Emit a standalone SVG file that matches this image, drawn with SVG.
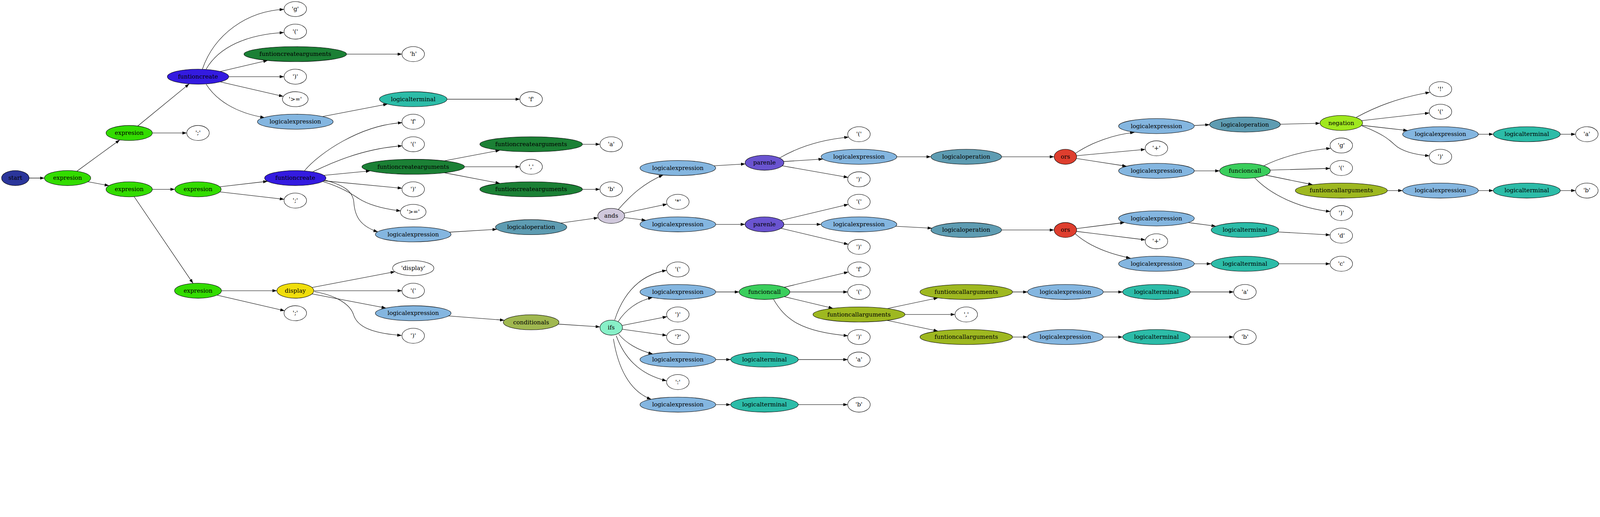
<svg xmlns="http://www.w3.org/2000/svg" width="5115" height="1323" viewBox="0 0 5115 1323" preserveAspectRatio="xMinYMin meet">
<style>
svg:root{width:100vw;height:100vh}
.n ellipse{stroke:#000;stroke-width:1.33}
.n text{font-family:"DejaVu Serif","Liberation Serif",serif;font-size:18.67px;text-anchor:middle;fill:#000}
.lit{fill:#fff}
.start{fill:#2b369b}
.expr{fill:#33dc00}
.fcreate{fill:#341be0}
.fca{fill:#1b8035}
.lexp{fill:#84b6e0}
.lterm{fill:#2cbca8}
.lop{fill:#5e9cb2}
.ands{fill:#d0c8dc}
.par{fill:#6a54d0}
.ors{fill:#de3e2e}
.neg{fill:#a0e81e}
.fcall{fill:#3ace5c}
.fcarg{fill:#9eb820}
.disp{fill:#f0de0c}
.cond{fill:#a0b850}
.ifs{fill:#88f0c8}
#edges path{fill:none;stroke:#000;stroke-width:1.33;marker-end:url(#arr)}
</style>
<defs>
<marker id="arr" markerUnits="userSpaceOnUse" markerWidth="14" markerHeight="10" viewBox="0 0 13.3 9.34" refX="13.3" refY="4.67" orient="auto">
<path d="M0,0 L13.3,4.67 L0,9.34 z" fill="#000"/>
</marker>
</defs>
<rect width="5115" height="1323" fill="#fff"/>
<g id="edges">
<path d="M93,569 L142,569"/>
<path d="M246,547 L383,447"/>
<path d="M280.5,580.8 L348.5,593.2"/>
<path d="M440.3,402.7 L604.9,268"/>
<path d="M487,425 L597,425"/>
<path d="M647,221 C685,110 790,35 908,30"/>
<path d="M659,221 C700,150 790,110 908,104"/>
<path d="M704,228.5 L856,193"/>
<path d="M731,245 L908,245"/>
<path d="M704,261.5 L905.9,308.2"/>
<path d="M659,269 C690,318 750,360 846,376"/>
<path d="M1108,173 L1285,173"/>
<path d="M1031.2,372.4 L1239.1,332.6"/>
<path d="M1429,317 L1662,317"/>
<path d="M487,605 L559,605"/>
<path d="M428.9,628.4 L617.1,905.5"/>
<path d="M702.7,596.9 L855.4,579.3"/>
<path d="M702.7,613.1 L908.5,636.9"/>
<path d="M973,546 C1020,490 1150,400 1286,392"/>
<path d="M1000,549 C1040,530 1150,475 1286,466"/>
<path d="M1035.3,560.3 L1183.7,546.1"/>
<path d="M1035.3,577.7 L1285.4,601.6"/>
<path d="M1032,580 C1075,593 1110,610 1140,630 C1175,655 1230,668 1281,674"/>
<path d="M1040,576 C1100,592 1128,612 1131,645 C1134,690 1150,722 1208,741"/>
<path d="M1420.8,513.9 L1598.2,480.1"/>
<path d="M1485,533 L1662,533"/>
<path d="M1420.8,552.1 L1598.2,585.9"/>
<path d="M1862,461 L1918,461"/>
<path d="M1862,605 L1918,605"/>
<path d="M1436.7,741.9 L1588.5,732.7"/>
<path d="M1792.8,712.7 L1912.3,695.9"/>
<path d="M1976,670 C2020,620 2060,585 2120,559"/>
<path d="M1994.2,681.5 L2132.7,652.3"/>
<path d="M1995.9,695.3 L2065.1,704.1"/>
<path d="M2282.6,529.9 L2382.8,523.8"/>
<path d="M2288,717 L2382,717"/>
<path d="M2492,505 C2560,465 2640,445 2713,438"/>
<path d="M2505.2,516.2 L2630.7,508.3"/>
<path d="M2500.5,529.9 L2711.2,566.9"/>
<path d="M2496.8,704.4 L2712.1,653.1"/>
<path d="M2506,717 L2625,717"/>
<path d="M2496.8,729.6 L2712.1,780.9"/>
<path d="M2867,501 L2976,501"/>
<path d="M2863,723.1 L2979.3,729.2"/>
<path d="M3202,501 L3370,501"/>
<path d="M3202,735 L3370,735"/>
<path d="M3438,490 C3490,455 3560,430 3627,423"/>
<path d="M3441.7,497.7 L3661.3,477.3"/>
<path d="M3441.1,506.4 L3601.6,531.2"/>
<path d="M3441.4,730.5 L3595.2,711"/>
<path d="M3441.4,739.4 L3661.6,766.6"/>
<path d="M3437,747 C3480,785 3540,810 3614,825"/>
<path d="M3818,401 L3867,398.5"/>
<path d="M4093,397 L4220,394"/>
<path d="M4336,375 C4400,340 4480,310 4571,295"/>
<path d="M4352.7,385.6 L4569.5,361"/>
<path d="M4352.7,400.4 L4500,417.1"/>
<path d="M4354,402 C4420,428 4440,445 4458,462 C4478,482 4520,494 4570,498"/>
<path d="M4726,429 L4774,429"/>
<path d="M4988,429 L5037,429"/>
<path d="M3818,546 L3899,546"/>
<path d="M4040,530 C4100,500 4180,480 4254,474"/>
<path d="M4060.6,543.6 L4252,538.1"/>
<path d="M4046.7,559.6 L4196.3,590.2"/>
<path d="M4011,568 C4060,620 4150,665 4253,676"/>
<path d="M4435,609 L4484,609"/>
<path d="M4726,609 L4774,609"/>
<path d="M4988,609 L5037,609"/>
<path d="M3798,711.2 L3886.9,722.8"/>
<path d="M4084.4,741.1 L4252.1,750.9"/>
<path d="M3818,843 L3872,843"/>
<path d="M4088,843 L4252,843"/>
<path d="M708,929 L885,929"/>
<path d="M693.8,943.1 L910,993.1"/>
<path d="M997.4,918.8 L1262.6,868.2"/>
<path d="M1003,929 L1285,929"/>
<path d="M997.4,939.2 L1233.8,984.4"/>
<path d="M1005,932 C1080,945 1120,975 1130,1005 C1142,1045 1190,1065 1284,1072"/>
<path d="M1433.8,1009.7 L1612.4,1023.4"/>
<path d="M1784.4,1035.7 L1918.2,1044.6"/>
<path d="M1965,1023 C1985,960 2030,880 2131,864"/>
<path d="M1976,1028 C2000,990 2040,960 2086,951"/>
<path d="M1988.5,1040.2 L2132.5,1011.8"/>
<path d="M1989.2,1052 L2131.8,1072"/>
<path d="M1978,1068 C2000,1095 2040,1120 2087,1131"/>
<path d="M1970,1073 C1995,1140 2040,1195 2131,1217"/>
<path d="M1961,1083 C1975,1170 2010,1250 2082,1276"/>
<path d="M2288,933 L2363,933"/>
<path d="M2507.1,918 L2712.1,869.1"/>
<path d="M2525,933 L2710,933"/>
<path d="M2507.1,948 L2663,985.2"/>
<path d="M2473,957 C2510,1020 2560,1060 2711,1073"/>
<path d="M2836.3,986.1 L2998.5,952"/>
<path d="M2893,1005 L3053,1005"/>
<path d="M2836.3,1023.9 L2998.5,1058"/>
<path d="M3237,933 L3285,933"/>
<path d="M3527,933 L3589,933"/>
<path d="M3805,933 L3944,933"/>
<path d="M3237,1077 L3285,1077"/>
<path d="M3527,1077 L3589,1077"/>
<path d="M3805,1077 L3944,1077"/>
<path d="M2288,1149 L2336,1149"/>
<path d="M2552,1149 L2710,1149"/>
<path d="M2288,1293 L2336,1293"/>
<path d="M2552,1293 L2710,1293"/>
</g>
<g id="n_start" class="n"><ellipse class="start" cx="49" cy="569" rx="44" ry="24"/><text x="49" y="575">start</text></g>
<g id="n_e1" class="n"><ellipse class="expr" cx="216" cy="569" rx="74" ry="24"/><text x="216" y="575">expresion</text></g>
<g id="n_e2" class="n"><ellipse class="expr" cx="413" cy="425" rx="74" ry="24"/><text x="413" y="431">expresion</text></g>
<g id="n_e3" class="n"><ellipse class="expr" cx="413" cy="605" rx="74" ry="24"/><text x="413" y="611">expresion</text></g>
<g id="n_fc1" class="n"><ellipse class="fcreate" cx="633" cy="245" rx="98" ry="24"/><text x="633" y="251">funtioncreate</text></g>
<g id="n_semi1" class="n"><ellipse class="lit" cx="633" cy="425" rx="36" ry="24"/><text x="633" y="431">';'</text></g>
<g id="n_e4" class="n"><ellipse class="expr" cx="633" cy="605" rx="74" ry="24"/><text x="633" y="611">expresion</text></g>
<g id="n_e5" class="n"><ellipse class="expr" cx="633" cy="929" rx="75" ry="24"/><text x="633" y="935">expresion</text></g>
<g id="n_g1" class="n"><ellipse class="lit" cx="944" cy="29" rx="36" ry="24"/><text x="944" y="35">'g'</text></g>
<g id="n_lp1" class="n"><ellipse class="lit" cx="944" cy="101" rx="36" ry="24"/><text x="944" y="107">'('</text></g>
<g id="n_fca1" class="n"><ellipse class="fca" cx="944" cy="173" rx="164" ry="24"/><text x="944" y="179">funtioncreatearguments</text></g>
<g id="n_rp1" class="n"><ellipse class="lit" cx="944" cy="245" rx="36" ry="24"/><text x="944" y="251">')'</text></g>
<g id="n_ge1" class="n"><ellipse class="lit" cx="944" cy="317" rx="41" ry="24"/><text x="944" y="323">'&gt;='</text></g>
<g id="n_le1" class="n"><ellipse class="lexp" cx="944" cy="389" rx="121" ry="24"/><text x="944" y="395">logicalexpression</text></g>
<g id="n_fc2" class="n"><ellipse class="fcreate" cx="944" cy="569" rx="98" ry="24"/><text x="944" y="575">funtioncreate</text></g>
<g id="n_semi2" class="n"><ellipse class="lit" cx="944" cy="641" rx="36" ry="24"/><text x="944" y="647">';'</text></g>
<g id="n_disp" class="n"><ellipse class="disp" cx="944" cy="929" rx="59" ry="24"/><text x="944" y="935">display</text></g>
<g id="n_semi3" class="n"><ellipse class="lit" cx="944" cy="1001" rx="36" ry="24"/><text x="944" y="1007">';'</text></g>
<g id="n_h1" class="n"><ellipse class="lit" cx="1321" cy="173" rx="36" ry="24"/><text x="1321" y="179">'h'</text></g>
<g id="n_lt1" class="n"><ellipse class="lterm" cx="1321" cy="317" rx="108" ry="24"/><text x="1321" y="323">logicalterminal</text></g>
<g id="n_f1" class="n"><ellipse class="lit" cx="1321" cy="389" rx="36" ry="24"/><text x="1321" y="395">'f'</text></g>
<g id="n_lp2" class="n"><ellipse class="lit" cx="1321" cy="461" rx="36" ry="24"/><text x="1321" y="467">'('</text></g>
<g id="n_fca2" class="n"><ellipse class="fca" cx="1321" cy="533" rx="164" ry="24"/><text x="1321" y="539">funtioncreatearguments</text></g>
<g id="n_rp2" class="n"><ellipse class="lit" cx="1321" cy="605" rx="36" ry="24"/><text x="1321" y="611">')'</text></g>
<g id="n_ge2" class="n"><ellipse class="lit" cx="1321" cy="677" rx="41" ry="24"/><text x="1321" y="683">'&gt;='</text></g>
<g id="n_le2" class="n"><ellipse class="lexp" cx="1321" cy="749" rx="121" ry="24"/><text x="1321" y="755">logicalexpression</text></g>
<g id="n_dstr" class="n"><ellipse class="lit" cx="1321" cy="857" rx="66" ry="24"/><text x="1321" y="863">'display'</text></g>
<g id="n_lp3" class="n"><ellipse class="lit" cx="1321" cy="929" rx="36" ry="24"/><text x="1321" y="935">'('</text></g>
<g id="n_le3" class="n"><ellipse class="lexp" cx="1321" cy="1001" rx="121" ry="24"/><text x="1321" y="1007">logicalexpression</text></g>
<g id="n_rp3" class="n"><ellipse class="lit" cx="1321" cy="1073" rx="36" ry="24"/><text x="1321" y="1079">')'</text></g>
<g id="n_f2" class="n"><ellipse class="lit" cx="1698" cy="317" rx="36" ry="24"/><text x="1698" y="323">'f'</text></g>
<g id="n_fca3" class="n"><ellipse class="fca" cx="1698" cy="461" rx="164" ry="24"/><text x="1698" y="467">funtioncreatearguments</text></g>
<g id="n_comma1" class="n"><ellipse class="lit" cx="1698" cy="533" rx="36" ry="24"/><text x="1698" y="539">','</text></g>
<g id="n_fca4" class="n"><ellipse class="fca" cx="1698" cy="605" rx="164" ry="24"/><text x="1698" y="611">funtioncreatearguments</text></g>
<g id="n_lo1" class="n"><ellipse class="lop" cx="1698" cy="726" rx="114" ry="24"/><text x="1698" y="732">logicaloperation</text></g>
<g id="n_cond" class="n"><ellipse class="cond" cx="1698" cy="1030" rx="89" ry="24"/><text x="1698" y="1036">conditionals</text></g>
<g id="n_a1" class="n"><ellipse class="lit" cx="1954" cy="461" rx="36" ry="24"/><text x="1954" y="467">'a'</text></g>
<g id="n_b1" class="n"><ellipse class="lit" cx="1954" cy="605" rx="36" ry="24"/><text x="1954" y="611">'b'</text></g>
<g id="n_ands" class="n"><ellipse class="ands" cx="1954" cy="690" rx="43" ry="24"/><text x="1954" y="696">ands</text></g>
<g id="n_ifs" class="n"><ellipse class="ifs" cx="1954" cy="1047" rx="36" ry="24"/><text x="1954" y="1053">ifs</text></g>
<g id="n_le4" class="n"><ellipse class="lexp" cx="2167" cy="537" rx="121" ry="24"/><text x="2167" y="543">logicalexpression</text></g>
<g id="n_star" class="n"><ellipse class="lit" cx="2167" cy="645" rx="36" ry="24"/><text x="2167" y="651">'*'</text></g>
<g id="n_le5" class="n"><ellipse class="lexp" cx="2167" cy="717" rx="121" ry="24"/><text x="2167" y="723">logicalexpression</text></g>
<g id="n_lp4" class="n"><ellipse class="lit" cx="2167" cy="861" rx="36" ry="24"/><text x="2167" y="867">'('</text></g>
<g id="n_le6" class="n"><ellipse class="lexp" cx="2167" cy="933" rx="121" ry="24"/><text x="2167" y="939">logicalexpression</text></g>
<g id="n_rp4" class="n"><ellipse class="lit" cx="2167" cy="1005" rx="36" ry="24"/><text x="2167" y="1011">')'</text></g>
<g id="n_q" class="n"><ellipse class="lit" cx="2167" cy="1077" rx="36" ry="24"/><text x="2167" y="1083">'?'</text></g>
<g id="n_le7" class="n"><ellipse class="lexp" cx="2167" cy="1149" rx="121" ry="24"/><text x="2167" y="1155">logicalexpression</text></g>
<g id="n_colon" class="n"><ellipse class="lit" cx="2167" cy="1221" rx="36" ry="24"/><text x="2167" y="1227">':'</text></g>
<g id="n_le8" class="n"><ellipse class="lexp" cx="2167" cy="1293" rx="121" ry="24"/><text x="2167" y="1299">logicalexpression</text></g>
<g id="n_par1" class="n"><ellipse class="par" cx="2444" cy="520" rx="62" ry="24"/><text x="2444" y="526">parenle</text></g>
<g id="n_par2" class="n"><ellipse class="par" cx="2444" cy="717" rx="62" ry="24"/><text x="2444" y="723">parenle</text></g>
<g id="n_fcall1" class="n"><ellipse class="fcall" cx="2444" cy="933" rx="81" ry="24"/><text x="2444" y="939">funcioncall</text></g>
<g id="n_lt2" class="n"><ellipse class="lterm" cx="2444" cy="1149" rx="108" ry="24"/><text x="2444" y="1155">logicalterminal</text></g>
<g id="n_lt3" class="n"><ellipse class="lterm" cx="2444" cy="1293" rx="108" ry="24"/><text x="2444" y="1299">logicalterminal</text></g>
<g id="n_lp5" class="n"><ellipse class="lit" cx="2746" cy="429" rx="36" ry="24"/><text x="2746" y="435">'('</text></g>
<g id="n_le9" class="n"><ellipse class="lexp" cx="2746" cy="501" rx="121" ry="24"/><text x="2746" y="507">logicalexpression</text></g>
<g id="n_rp5" class="n"><ellipse class="lit" cx="2746" cy="573" rx="36" ry="24"/><text x="2746" y="579">')'</text></g>
<g id="n_lp6" class="n"><ellipse class="lit" cx="2746" cy="645" rx="36" ry="24"/><text x="2746" y="651">'('</text></g>
<g id="n_le10" class="n"><ellipse class="lexp" cx="2746" cy="717" rx="121" ry="24"/><text x="2746" y="723">logicalexpression</text></g>
<g id="n_rp6" class="n"><ellipse class="lit" cx="2746" cy="789" rx="36" ry="24"/><text x="2746" y="795">')'</text></g>
<g id="n_f3" class="n"><ellipse class="lit" cx="2746" cy="861" rx="36" ry="24"/><text x="2746" y="867">'f'</text></g>
<g id="n_lp7" class="n"><ellipse class="lit" cx="2746" cy="933" rx="36" ry="24"/><text x="2746" y="939">'('</text></g>
<g id="n_fcarg1" class="n"><ellipse class="fcarg" cx="2746" cy="1005" rx="147" ry="24"/><text x="2746" y="1011">funtioncallarguments</text></g>
<g id="n_rp7" class="n"><ellipse class="lit" cx="2746" cy="1077" rx="36" ry="24"/><text x="2746" y="1083">')'</text></g>
<g id="n_a2" class="n"><ellipse class="lit" cx="2746" cy="1149" rx="36" ry="24"/><text x="2746" y="1155">'a'</text></g>
<g id="n_b2" class="n"><ellipse class="lit" cx="2746" cy="1293" rx="36" ry="24"/><text x="2746" y="1299">'b'</text></g>
<g id="n_lo2" class="n"><ellipse class="lop" cx="3089" cy="501" rx="113" ry="24"/><text x="3089" y="507">logicaloperation</text></g>
<g id="n_lo3" class="n"><ellipse class="lop" cx="3089" cy="735" rx="113" ry="24"/><text x="3089" y="741">logicaloperation</text></g>
<g id="n_fcarg2" class="n"><ellipse class="fcarg" cx="3089" cy="933" rx="148" ry="24"/><text x="3089" y="939">funtioncallarguments</text></g>
<g id="n_comma2" class="n"><ellipse class="lit" cx="3089" cy="1005" rx="36" ry="24"/><text x="3089" y="1011">','</text></g>
<g id="n_fcarg3" class="n"><ellipse class="fcarg" cx="3089" cy="1077" rx="148" ry="24"/><text x="3089" y="1083">funtioncallarguments</text></g>
<g id="n_ors1" class="n"><ellipse class="ors" cx="3406" cy="501" rx="36" ry="24"/><text x="3406" y="507">ors</text></g>
<g id="n_ors2" class="n"><ellipse class="ors" cx="3406" cy="735" rx="36" ry="24"/><text x="3406" y="741">ors</text></g>
<g id="n_le11" class="n"><ellipse class="lexp" cx="3406" cy="933" rx="121" ry="24"/><text x="3406" y="939">logicalexpression</text></g>
<g id="n_le12" class="n"><ellipse class="lexp" cx="3406" cy="1077" rx="121" ry="24"/><text x="3406" y="1083">logicalexpression</text></g>
<g id="n_le13" class="n"><ellipse class="lexp" cx="3697" cy="403" rx="121" ry="24"/><text x="3697" y="409">logicalexpression</text></g>
<g id="n_plus1" class="n"><ellipse class="lit" cx="3697" cy="474" rx="36" ry="24"/><text x="3697" y="480">'+'</text></g>
<g id="n_le14" class="n"><ellipse class="lexp" cx="3697" cy="546" rx="121" ry="24"/><text x="3697" y="552">logicalexpression</text></g>
<g id="n_le15" class="n"><ellipse class="lexp" cx="3697" cy="698" rx="121" ry="24"/><text x="3697" y="704">logicalexpression</text></g>
<g id="n_plus2" class="n"><ellipse class="lit" cx="3697" cy="771" rx="36" ry="24"/><text x="3697" y="777">'+'</text></g>
<g id="n_le16" class="n"><ellipse class="lexp" cx="3697" cy="843" rx="121" ry="24"/><text x="3697" y="849">logicalexpression</text></g>
<g id="n_lt4" class="n"><ellipse class="lterm" cx="3697" cy="933" rx="108" ry="24"/><text x="3697" y="939">logicalterminal</text></g>
<g id="n_lt5" class="n"><ellipse class="lterm" cx="3697" cy="1077" rx="108" ry="24"/><text x="3697" y="1083">logicalterminal</text></g>
<g id="n_lo4" class="n"><ellipse class="lop" cx="3980" cy="398" rx="113" ry="24"/><text x="3980" y="404">logicaloperation</text></g>
<g id="n_fcall2" class="n"><ellipse class="fcall" cx="3980" cy="546" rx="81" ry="24"/><text x="3980" y="552">funcioncall</text></g>
<g id="n_lt6" class="n"><ellipse class="lterm" cx="3980" cy="735" rx="108" ry="24"/><text x="3980" y="741">logicalterminal</text></g>
<g id="n_lt7" class="n"><ellipse class="lterm" cx="3980" cy="843" rx="108" ry="24"/><text x="3980" y="849">logicalterminal</text></g>
<g id="n_a3" class="n"><ellipse class="lit" cx="3980" cy="933" rx="36" ry="24"/><text x="3980" y="939">'a'</text></g>
<g id="n_b3" class="n"><ellipse class="lit" cx="3980" cy="1077" rx="36" ry="24"/><text x="3980" y="1083">'b'</text></g>
<g id="n_neg" class="n"><ellipse class="neg" cx="4288" cy="393" rx="68" ry="24"/><text x="4288" y="399">negation</text></g>
<g id="n_g2" class="n"><ellipse class="lit" cx="4288" cy="465" rx="36" ry="24"/><text x="4288" y="471">'g'</text></g>
<g id="n_lp8" class="n"><ellipse class="lit" cx="4288" cy="537" rx="36" ry="24"/><text x="4288" y="543">'('</text></g>
<g id="n_fcarg4" class="n"><ellipse class="fcarg" cx="4288" cy="609" rx="147" ry="24"/><text x="4288" y="615">funtioncallarguments</text></g>
<g id="n_rp8" class="n"><ellipse class="lit" cx="4288" cy="681" rx="36" ry="24"/><text x="4288" y="687">')'</text></g>
<g id="n_d" class="n"><ellipse class="lit" cx="4288" cy="753" rx="36" ry="24"/><text x="4288" y="759">'d'</text></g>
<g id="n_c" class="n"><ellipse class="lit" cx="4288" cy="843" rx="36" ry="24"/><text x="4288" y="849">'c'</text></g>
<g id="n_excl" class="n"><ellipse class="lit" cx="4605" cy="285" rx="36" ry="24"/><text x="4605" y="291">'!'</text></g>
<g id="n_lp9" class="n"><ellipse class="lit" cx="4605" cy="357" rx="36" ry="24"/><text x="4605" y="363">'('</text></g>
<g id="n_le17" class="n"><ellipse class="lexp" cx="4605" cy="429" rx="121" ry="24"/><text x="4605" y="435">logicalexpression</text></g>
<g id="n_rp9" class="n"><ellipse class="lit" cx="4605" cy="501" rx="36" ry="24"/><text x="4605" y="507">')'</text></g>
<g id="n_le18" class="n"><ellipse class="lexp" cx="4605" cy="609" rx="121" ry="24"/><text x="4605" y="615">logicalexpression</text></g>
<g id="n_lt8" class="n"><ellipse class="lterm" cx="4881" cy="429" rx="107" ry="24"/><text x="4881" y="435">logicalterminal</text></g>
<g id="n_lt9" class="n"><ellipse class="lterm" cx="4881" cy="609" rx="107" ry="24"/><text x="4881" y="615">logicalterminal</text></g>
<g id="n_a4" class="n"><ellipse class="lit" cx="5073" cy="429" rx="36" ry="24"/><text x="5073" y="435">'a'</text></g>
<g id="n_b4" class="n"><ellipse class="lit" cx="5073" cy="609" rx="36" ry="24"/><text x="5073" y="615">'b'</text></g>
</svg>
